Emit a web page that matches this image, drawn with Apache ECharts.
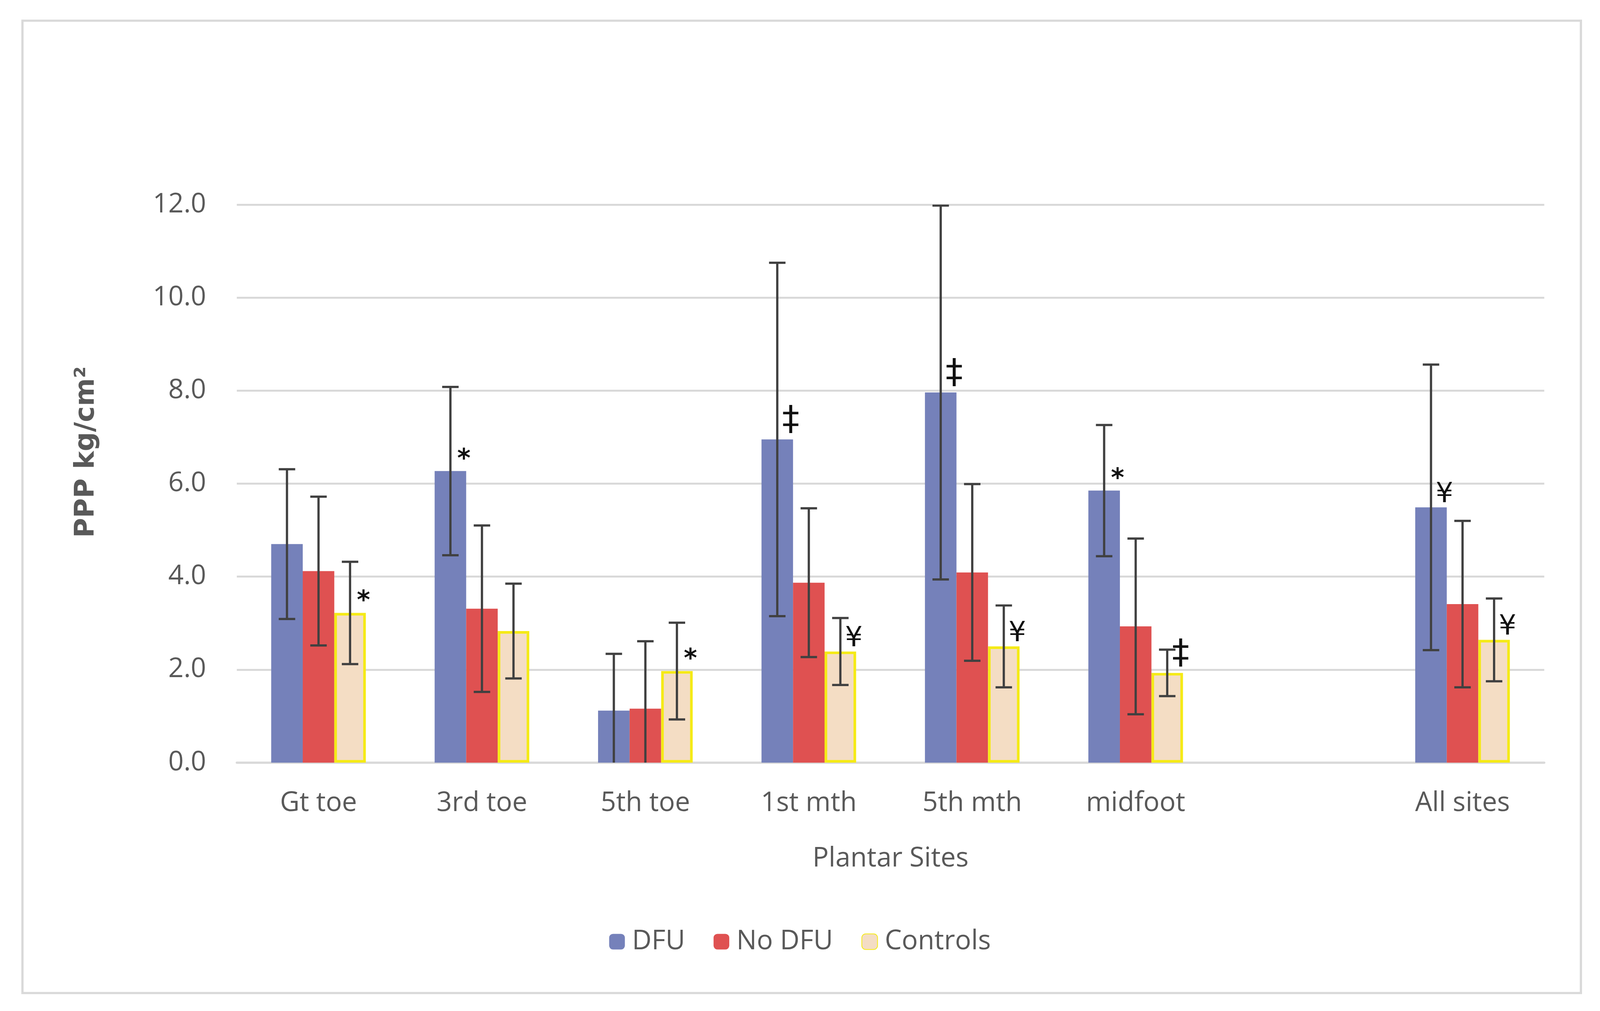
<!DOCTYPE html>
<html>
<head>
<meta charset="utf-8">
<script src="https://cdn.jsdelivr.net/npm/echarts@6/dist/echarts.min.js"></script>
<style>
html,body{margin:0;padding:0;background:#fff;overflow:hidden;}
#chart{width:100vw;height:100vh;}
</style>
</head>
<body>
<div id="chart"></div>
<script>
// ---- data ----
const categories = ['Gt toe', '3rd toe', '5th toe', '1st mth', '5th mth', 'midfoot', '', 'All sites'];
const seriesNames = ['DFU', 'No DFU', 'Controls'];
const dfu        = [4.70, 6.27, 1.12, 6.95, 7.96, 5.85, null, 5.49];
const noDfu      = [4.12, 3.31, 1.16, 3.87, 4.09, 2.93, null, 3.41];
const controls   = [3.22, 2.83, 1.97, 2.39, 2.50, 1.93, null, 2.64];
const dfuSd      = [1.61, 1.81, 1.22, 3.80, 4.02, 1.41, null, 3.07];
const noDfuSd    = [1.60, 1.79, 1.45, 1.60, 1.90, 1.89, null, 1.79];
const controlsSd = [1.10, 1.02, 1.04, 0.72, 0.88, 0.50, null, 0.89];
const dfuMarks      = ['', '*', '', '‡', '‡', '*', '', '¥'];
const noDfuMarks    = ['', '', '', '', '', '', '', ''];
const controlsMarks = ['*', '', '*', '¥', '¥', '‡', '', '¥'];
const yTicks = [0, 2, 4, 6, 8, 10, 12];

// ---- layout (designed for 4277 x 2589, scaled to the actual window) ----
const el = document.getElementById('chart');
const W = el.clientWidth || 4277, H = el.clientHeight || 2589;
const sx = W / 4277, sy = H / 2589, s = Math.min(sx, sy);

const BAR_FRAC = 0.193;
const colors = ['#7581BA', '#DF5151', '#F4DDC4'];
const textColor = '#595959';
const font = 'Open Sans';

const means = [dfu, noDfu, controls];
const sds = [dfuSd, noDfuSd, controlsSd];
const marks = [dfuMarks, noDfuMarks, controlsMarks];
const markKey = { '*': 'a', '‡': 'd', '¥': 'y' };

const barSeries = seriesNames.map((name, si) => ({
  name: name,
  type: 'bar',
  data: means[si],
  barWidth: (BAR_FRAC * 100) + '%',
  barGap: '0%',
  itemStyle: si === 2
    ? { color: colors[2], borderColor: '#F5EA16', borderWidth: 7 * s }
    : { color: colors[si] },
  label: {
    show: true,
    position: 'top',
    distance: -4 * s,
    offset: [36 * sx, 0],
    formatter: p => {
      const m = marks[si][p.dataIndex];
      return m ? '{' + markKey[m] + '|' + m + '}' : '';
    },
    rich: {
      a: { fontFamily: 'DejaVu Sans', fontWeight: 'bold', fontSize: 68 * s, color: '#111' },
      d: { fontFamily: 'DejaVu Sans', fontWeight: 'normal', fontSize: 92 * s, color: '#111', lineHeight: 92 * s, padding: [0, 0, 14 * s, 0] },
      y: { fontFamily: 'DejaVu Sans', fontWeight: 'normal', fontSize: 74 * s, color: '#111' }
    }
  },
  z: 2
}));

const errData = [];
for (let si = 0; si < 3; si++) {
  for (let ci = 0; ci < categories.length; ci++) {
    if (means[si][ci] != null) errData.push([ci, means[si][ci], sds[si][ci], si]);
  }
}

const errSeries = {
  type: 'custom',
  name: 'err',
  data: errData,
  encode: { x: 0, y: 1 },
  clip: true,
  z: 5,
  silent: true,
  renderItem: function (params, api) {
    const ci = api.value(0), m = api.value(1), sd = api.value(2), si = api.value(3);
    const band = api.size([1, 0])[0];
    const bw = band * BAR_FRAC;
    const x = api.coord([ci, 0])[0] + (si - 1) * bw;
    const yt = api.coord([ci, m + sd])[1];
    const yb = api.coord([ci, m - sd])[1];
    const cap = 22 * sx;
    const st = { stroke: '#404040', lineWidth: 6 * s };
    return {
      type: 'group',
      children: [
        { type: 'line', shape: { x1: x, y1: yt, x2: x, y2: yb }, style: st },
        { type: 'line', shape: { x1: x - cap, y1: yt, x2: x + cap, y2: yt }, style: st },
        { type: 'line', shape: { x1: x - cap, y1: yb, x2: x + cap, y2: yb }, style: st }
      ]
    };
  }
};

const chart = echarts.init(el, null, { renderer: 'canvas' });
chart.setOption({
  backgroundColor: '#ffffff',
  animation: false,
  color: colors,
  graphic: [{
    type: 'rect',
    shape: { x: 60 * sx, y: 53 * sy, width: 4166 * sx, height: 2490 * sy },
    style: { fill: 'none', stroke: '#D9D9D9', lineWidth: 6 * s },
    silent: true
  }],
  grid: { left: 633 * sx, right: 149 * sx, top: 524 * sy, bottom: 636 * sy },
  legend: {
    data: seriesNames,
    left: 'center',
    top: 2372 * sy,
    itemWidth: 42 * s,
    itemHeight: 42 * s,
    itemGap: 76 * sx,
    textStyle: { fontFamily: font, fontSize: 72 * s, color: textColor, padding: [0, 0, 0, 14 * s] }
  },
  xAxis: {
    type: 'category',
    data: categories,
    name: 'Plantar Sites',
    nameLocation: 'middle',
    nameGap: 212 * sy,
    nameTextStyle: { fontFamily: font, fontSize: 72 * s, color: textColor },
    axisLine: { show: true, lineStyle: { color: '#D9D9D9', width: 6 * s } },
    axisTick: { show: false },
    axisLabel: { fontFamily: font, fontSize: 72 * s, color: textColor, margin: 70 * sy, interval: 0 },
    splitLine: { show: false }
  },
  yAxis: {
    type: 'value',
    min: yTicks[0],
    max: yTicks[yTicks.length - 1],
    interval: 2,
    name: 'PPP kg/cm²',
    nameLocation: 'middle',
    nameGap: 365 * sx,
    nameRotate: 90,
    nameTextStyle: { fontFamily: 'DejaVu Sans', fontWeight: 'bold', fontSize: 72 * s, color: textColor, padding: [0, 0, 0, 162 * sy] },
    axisLine: { show: false },
    axisTick: { show: false },
    axisLabel: { fontFamily: font, fontSize: 72 * s, color: textColor, margin: 82 * sx, formatter: v => v.toFixed(1) },
    splitLine: { show: true, lineStyle: { color: '#D9D9D9', width: 5 * s } }
  },
  series: [...barSeries, errSeries]
});
</script>
</body>
</html>
